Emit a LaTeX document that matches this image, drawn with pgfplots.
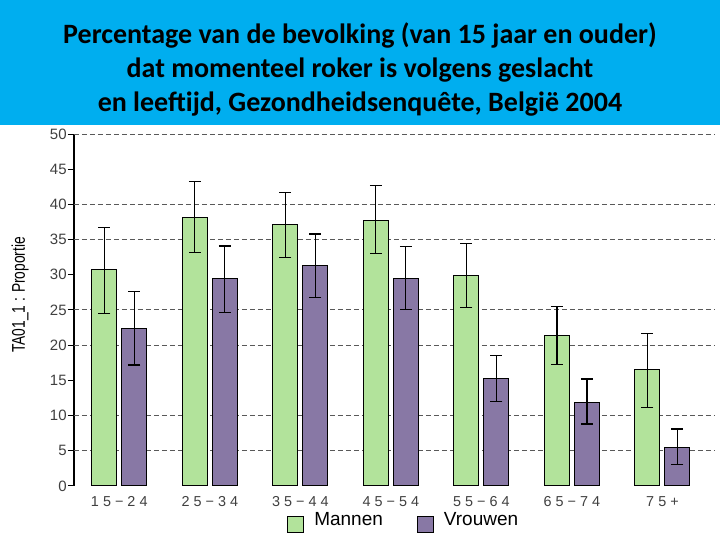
\documentclass[border=0pt]{standalone}
\usepackage{pgfplots}
\pgfplotsset{compat=1.18}
\usepackage{fontspec}
\setmainfont{Liberation Sans}
\newfontfamily\titlefont{Carlito}
\newfontfamily\spaced[LetterSpace=28]{Liberation Sans}
\newfontfamily\narrow[FakeStretch=0.75]{Liberation Sans}
\definecolor{band}{RGB}{0,174,239}
\definecolor{mgreen}{RGB}{178,227,155}
\definecolor{vpurple}{RGB}{136,120,165}

\begin{document}
\begin{tikzpicture}[x=1pt,y=1pt]
\fill[white] (0,0) rectangle (360,270);
\fill[band] (0,207.5) rectangle (360,270);
\node[font=\titlefont\bfseries\fontsize{14}{17}\selectfont, align=center] at (180,235.5)
  {Percentage van de bevolking (van 15 jaar en ouder)\\dat momenteel roker is volgens geslacht\\en leeftijd, Gezondheidsenquête, België 2004};
\begin{axis}[
  at={(37pt,27pt)}, anchor=south west,
  scale only axis, width=320.5pt, height=176pt,
  xmin=-0.5, xmax=6.58, ymin=0, ymax=50,
  ybar=2.5pt, bar width=0.276,
  axis x line*=bottom, axis y line*=left,
  x axis line style={draw=none},
  y axis line style={black, line width=0.6pt},
  xtick={0,...,6},
  xticklabels={15−24,25−34,35−44,45−54,55−64,65−74,75+},
  major x tick style={draw=none},
  xticklabel style={font=\spaced\fontsize{7.2}{9}\selectfont, text=black!75, yshift=2pt,
    text height=5.5pt, text depth=0.5pt},
  ytick={0,5,...,50},
  tick align=outside, major tick length=3pt,
  major y tick style={black, line width=0.5pt},
  yticklabel style={font=\fontsize{7.5}{9}\selectfont, text=black!75, inner sep=0.5pt},
  /pgf/number format/assume math mode=true,
  extra y ticks={5,10,20,25,35,40,50},
  extra y tick labels={},
  extra y tick style={grid=major},
  major grid style={draw=black!65, dash pattern=on 2.5pt off 1.5pt, line width=0.5pt},
  ylabel={TA01\_1 : Proportie},
  ylabel style={at={(axis description cs:-0.084,0.543)}, anchor=center, font=\narrow\fontsize{9.2}{11}\selectfont},
  legend style={at={(axis description cs:0.516,-0.099)}, anchor=center, draw=none, fill=none,
    legend columns=2, font=\fontsize{9.5}{11}\selectfont,
    /tikz/every odd column/.append style={column sep=3pt},
    /tikz/every even column/.append style={column sep=15pt}},
  legend image code/.code={\draw[#1, draw=black, line width=0.5pt] (0pt,-6pt) rectangle (8pt,2pt);},
  error bars/y dir=both, error bars/y explicit,
  error bars/error bar style={black, line width=0.6pt},
  error bars/error mark options={rotate=90, mark size=3pt, black, line width=0.6pt},
]
\addplot[fill=mgreen, draw=black, line width=0.5pt]
coordinates {
  (0,30.7) += (0,6.0) -= (0,6.2)
  (1,38.2) += (0,5.1) -= (0,5.0)
  (2,37.1) += (0,4.6) -= (0,4.6)
  (3,37.7) += (0,5.0) -= (0,4.7)
  (4,29.9) += (0,4.6) -= (0,4.5)
  (5,21.4) += (0,4.1) -= (0,4.1)
  (6,16.5) += (0,5.2) -= (0,5.3)
};
\addlegendentry{Mannen}
\addplot[fill=vpurple, draw=black, line width=0.5pt]
coordinates {
  (0,22.4) += (0,5.2) -= (0,5.2)
  (1,29.5) += (0,4.6) -= (0,4.8)
  (2,31.3) += (0,4.5) -= (0,4.5)
  (3,29.5) += (0,4.5) -= (0,4.4)
  (4,15.3) += (0,3.2) -= (0,3.3)
  (5,11.9) += (0,3.3) -= (0,3.1)
  (6,5.5) += (0,2.6) -= (0,2.5)
};
\addlegendentry{Vrouwen}
\end{axis}
\end{tikzpicture}
\end{document}
